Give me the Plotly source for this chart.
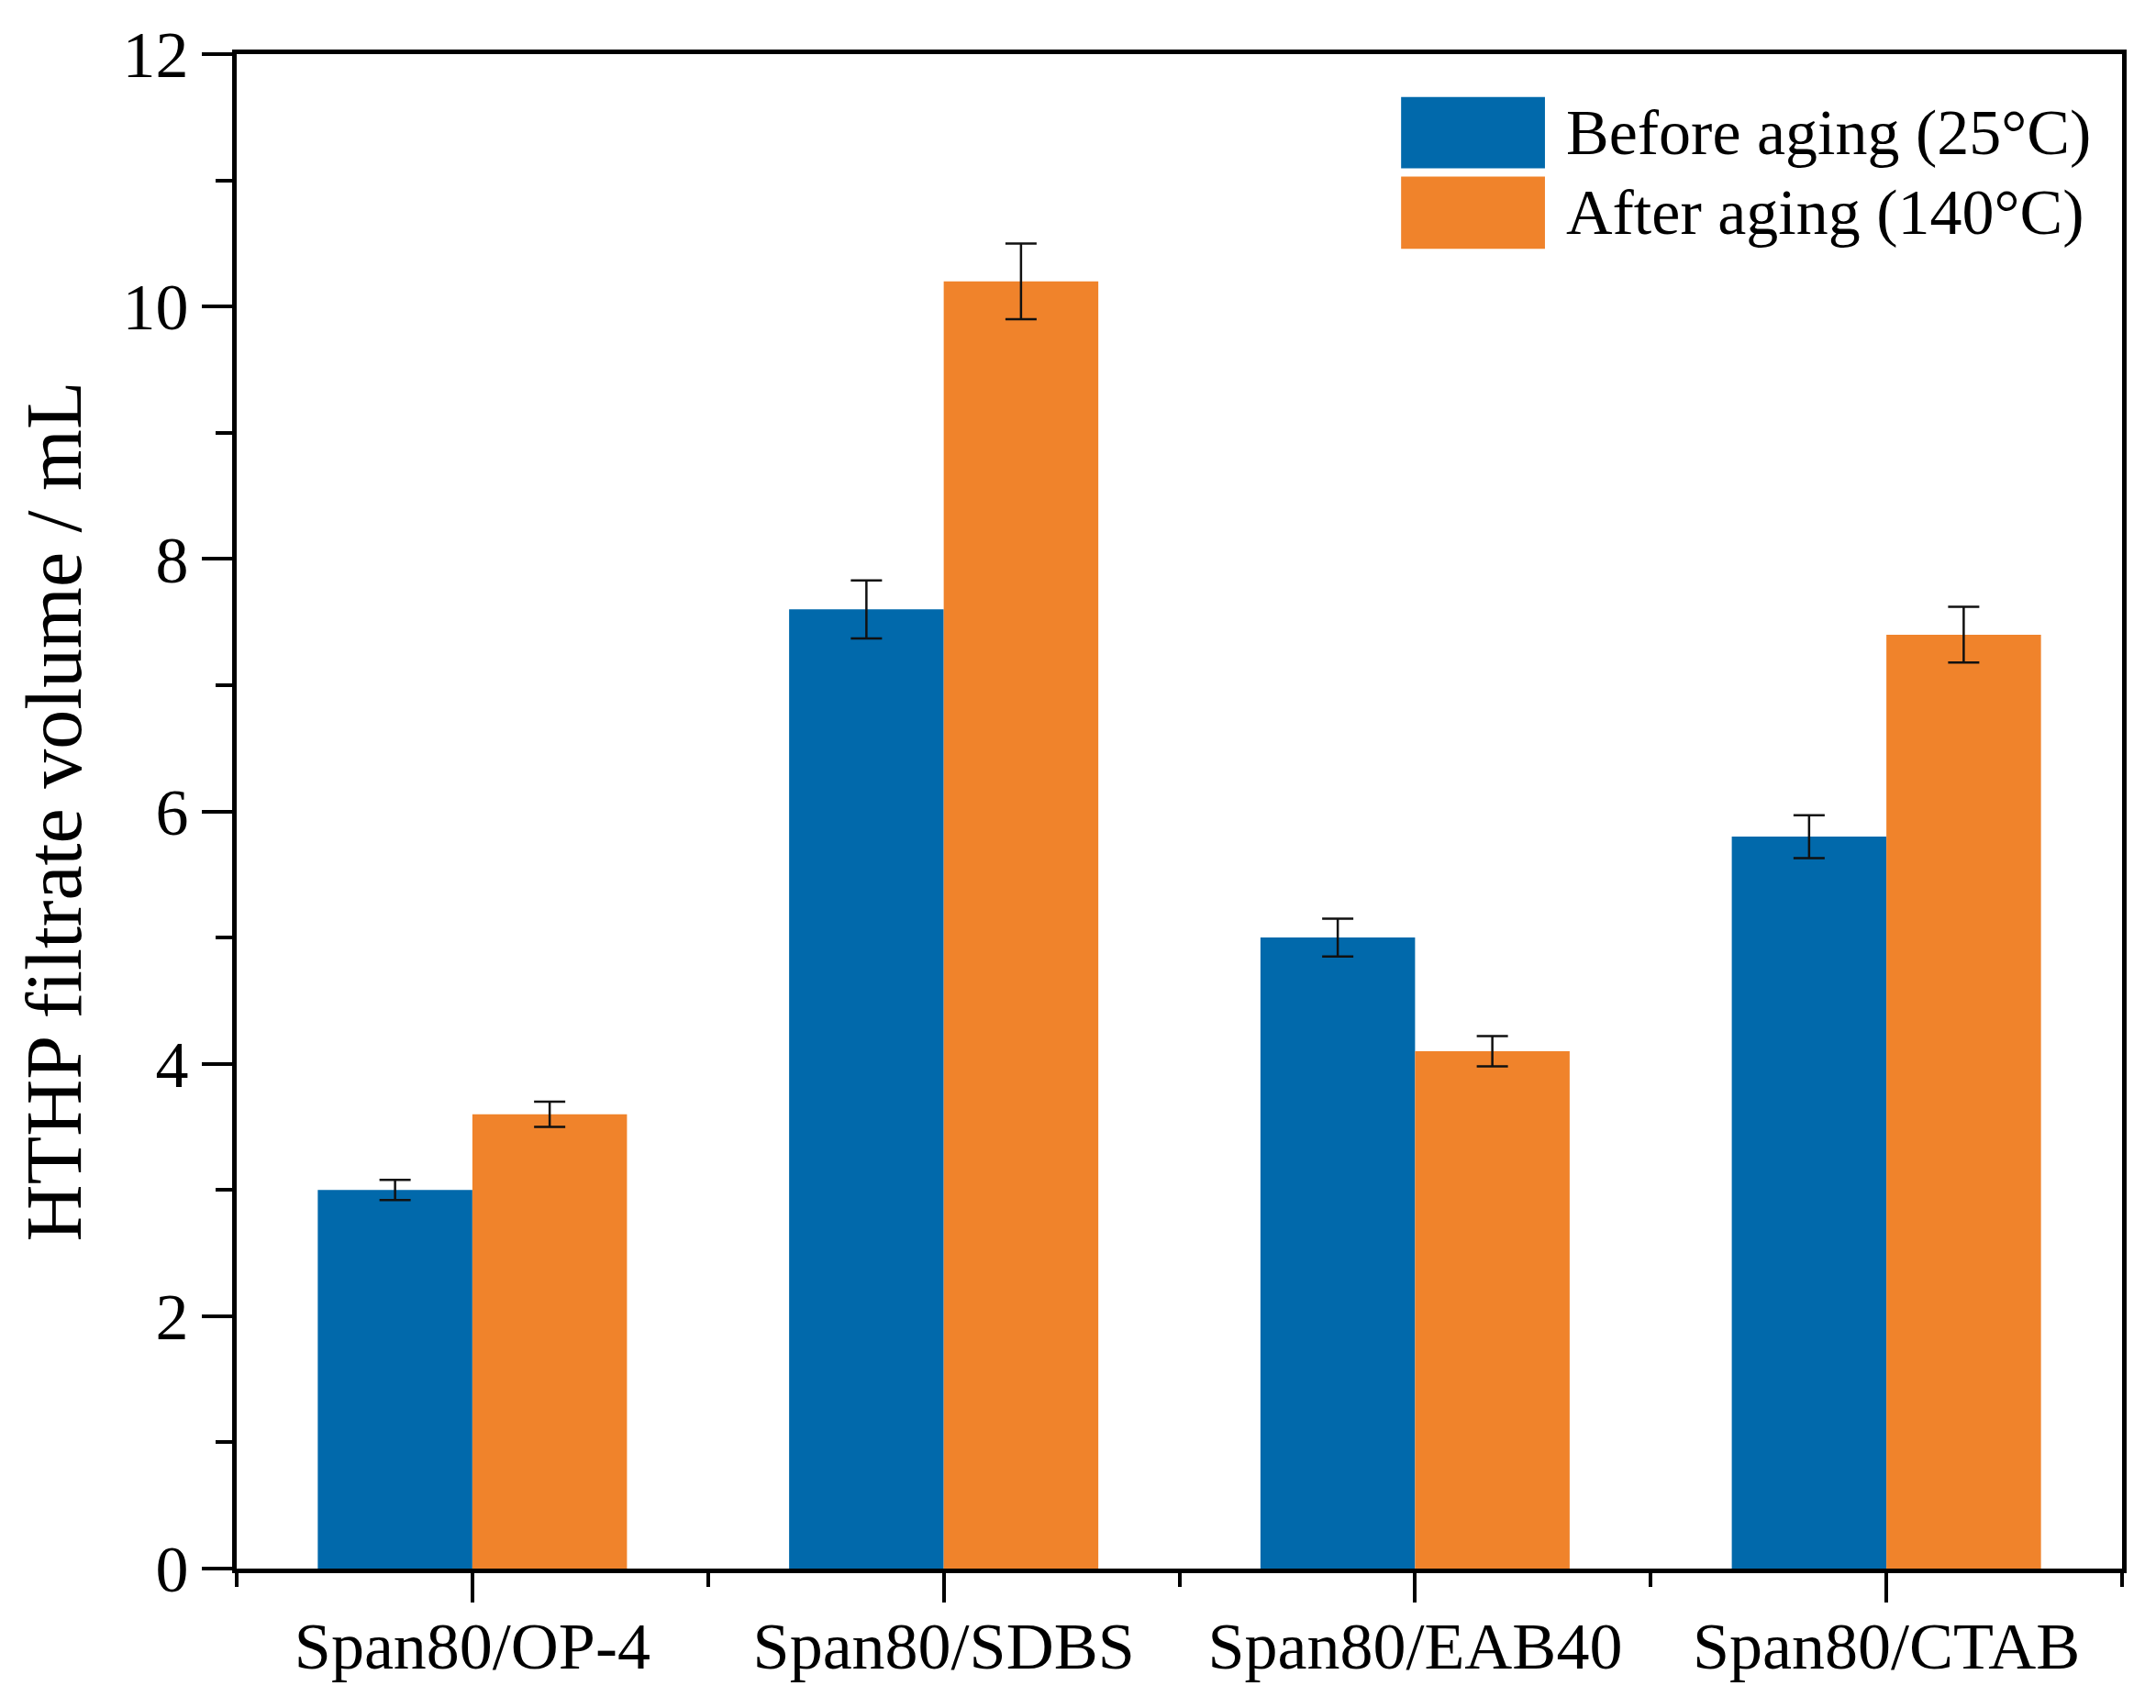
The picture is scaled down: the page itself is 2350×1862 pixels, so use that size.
import plotly.graph_objects as go

# data
categories = ["Span80/OP-4", "Span80/SDBS", "Span80/EAB40", "Span80/CTAB"]
series_names = ["Before aging (25°C)", "After aging (140°C)"]
before_vals = [3.0, 7.6, 5.0, 5.8]
before_err = [0.08, 0.23, 0.15, 0.17]
after_vals = [3.6, 10.2, 4.1, 7.4]
after_err = [0.10, 0.30, 0.12, 0.22]
y_ticks = [0, 2, 4, 6, 8, 10, 12]

colors = ["#0169AB", "#F0832B"]
FONT = "Liberation Serif"

x_pos = list(range(len(categories)))

fig = go.Figure()
for name, vals, errs, col in [
    (series_names[0], before_vals, before_err, colors[0]),
    (series_names[1], after_vals, after_err, colors[1]),
]:
    fig.add_trace(go.Bar(
        x=x_pos, y=vals, name=name,
        marker=dict(color=col, line=dict(width=0)),
        error_y=dict(type="data", array=errs, color="#111111",
                     thickness=2.5, width=17),
    ))

# page body has an 8px margin, so the figure is a bit smaller than the window
fig.update_layout(
    width=2342, height=1854,
    margin=dict(l=250, r=37, t=40, b=152),
    plot_bgcolor="white", paper_bgcolor="white",
    barmode="group", bargap=0.344, bargroupgap=0,
    showlegend=False,
    font=dict(family=FONT, color="black", size=72),
)

fig.update_xaxes(
    range=[-0.5, len(categories) - 0.5],
    tickmode="array", tickvals=x_pos, ticktext=categories,
    ticks="outside", ticklen=32, tickwidth=4, tickcolor="black",
    ticklabelstandoff=-14,
    minor=dict(tickmode="array",
               tickvals=[i - 0.5 for i in range(len(categories) + 1)],
               ticks="outside", ticklen=15, tickwidth=4, tickcolor="black"),
    showline=True, linewidth=5, linecolor="black", mirror=True,
    showgrid=False, zeroline=False,
    tickfont=dict(family=FONT, size=72, color="black"),
)

fig.update_yaxes(
    range=[0, 12],
    tickmode="array", tickvals=y_ticks,
    ticks="outside", ticklen=33, tickwidth=4, tickcolor="black",
    minor=dict(dtick=1, ticks="outside", ticklen=18, tickwidth=4,
               tickcolor="black", showgrid=False),
    showline=True, linewidth=5, linecolor="black", mirror=True,
    showgrid=False, zeroline=False,
    tickfont=dict(family=FONT, size=72, color="black"),
    title=dict(text="HTHP filtrate volume / mL",
               font=dict(family=FONT, size=86, color="black"), standoff=18),
)

# hand-made legend with large swatches like the original
legend_rows = [(0.9717, 0.9246), (0.9192, 0.8715)]
for (y1, y0), name, col in zip(legend_rows, series_names, colors):
    fig.add_shape(type="rect", xref="paper", yref="paper",
                  x0=0.6176, x1=0.6939, y0=y0, y1=y1,
                  fillcolor=col, line=dict(width=0))
    fig.add_annotation(xref="paper", yref="paper", x=0.704, y=(y0 + y1) / 2,
                       text=name, showarrow=False, xanchor="left",
                       yanchor="middle",
                       font=dict(family=FONT, size=70, color="black"))

fig.write_html("out.html")
